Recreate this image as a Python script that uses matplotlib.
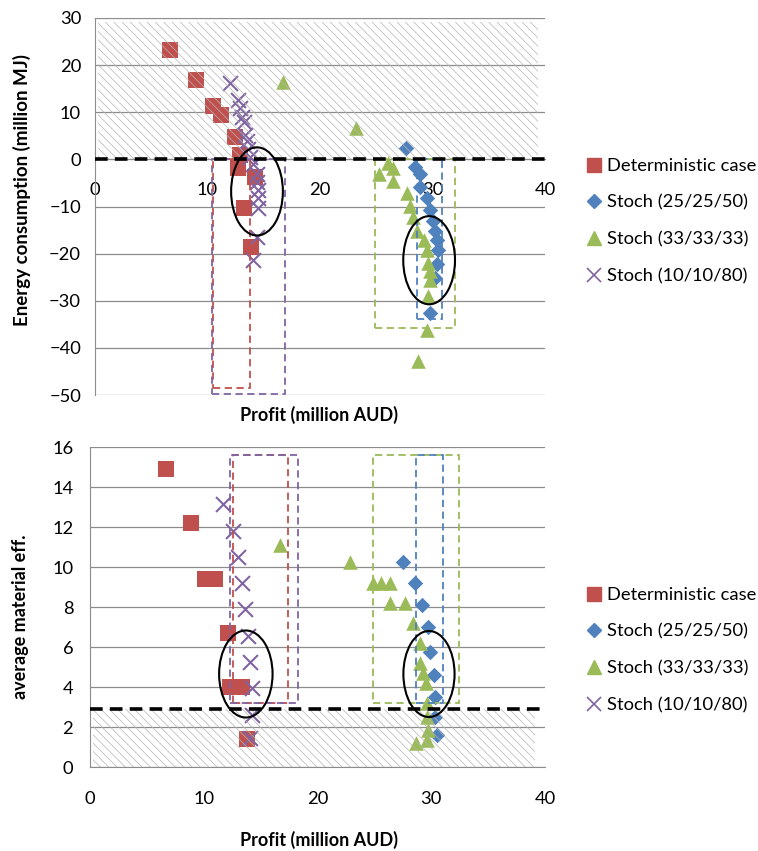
import matplotlib.pyplot as plt
from matplotlib.patches import Rectangle, Ellipse
from matplotlib.lines import Line2D

plt.rcParams['font.family'] = ['Lato', 'DejaVu Sans']
plt.rcParams['hatch.linewidth'] = 0.5

# colours (Excel 2007 defaults)
RED = '#C0504D'
BLUE = '#4F81BD'
GREEN = '#9BBB59'
PURPLE = '#8064A2'
GRID = '#8c8c8c'

labels = ['Deterministic case', 'Stoch (25/25/50)', 'Stoch (33/33/33)', 'Stoch (10/10/80)']

# ---- top chart: profit vs energy consumption
det_e_x = [6.7, 9.0, 10.5, 11.2, 12.4, 12.9, 12.7, 14.2, 13.2, 13.9]
det_e_y = [23.3, 16.8, 11.3, 9.5, 4.7, 1.0, -1.9, -3.8, -10.4, -18.7]

blue_e_x = [27.6, 28.4, 28.9, 28.9, 29.5, 29.8, 30.0, 30.2, 30.4, 30.5, 30.4, 30.2, 29.8]
blue_e_y = [2.5, -1.7, -3.0, -5.9, -8.1, -10.8, -13.0, -15.1, -17.2, -19.3, -22.1, -25.1, -32.5]

green_e_x = [16.7, 23.2, 26.0, 25.2, 26.5, 26.5, 27.7, 28.0, 28.3, 28.6, 29.2, 29.5,
             29.6, 29.8, 29.8, 29.6, 29.5, 28.7]
green_e_y = [16.5, 6.6, -0.8, -3.0, -1.9, -4.5, -7.2, -9.8, -12.3, -15.1, -17.2, -19.3,
             -21.9, -23.6, -25.7, -28.9, -36.3, -42.7]

purple_e_x = [12.0, 12.7, 12.9, 13.1, 13.2, 13.3, 13.5, 13.6, 13.8, 14.0, 14.4, 14.4,
              14.5, 14.5, 14.5, 14.4, 14.0]
purple_e_y = [16.3, 12.5, 11.0, 8.9, 7.9, 5.1, 4.0, 2.3, 0.4, -0.9, -3.0, -4.9,
              -6.6, -8.3, -10.4, -16.5, -21.4]

# ---- bottom chart: profit vs average material efficiency
det_m_x = [6.7, 8.9, 10.1, 11.0, 12.1, 12.3, 13.4, 13.8]
det_m_y = [14.9, 12.2, 9.4, 9.4, 6.7, 4.0, 4.0, 1.4]

blue_m_x = [27.5, 28.6, 29.2, 29.7, 29.9, 30.2, 30.3, 30.3, 30.5]
blue_m_y = [10.25, 9.2, 8.1, 7.0, 5.75, 4.6, 3.5, 2.5, 1.6]

green_m_x = [16.7, 22.9, 24.9, 25.6, 26.4, 26.4, 27.7, 28.4, 29.0, 29.0, 29.3, 29.5,
             29.6, 29.6, 29.7, 28.7, 29.6]
green_m_y = [11.1, 10.25, 9.2, 9.2, 9.2, 8.2, 8.2, 7.2, 6.2, 5.2, 4.7, 4.2,
             3.2, 2.5, 1.85, 1.2, 1.35]

purple_m_x = [11.7, 12.6, 13.0, 13.4, 13.6, 13.9, 14.1, 14.2, 14.2, 14.1]
purple_m_y = [13.15, 11.8, 10.5, 9.2, 7.9, 6.55, 5.25, 3.95, 2.6, 1.45]

# limit lines
energy_limit = 0
material_limit = 2.9

# dashed boxes (x0, x1, y0, y1) and ellipses (cx, cy, w, h) drawn on the charts
boxes_e = [(RED, 10.5, 13.8, -48.6, 0), (PURPLE, 10.4, 16.9, -49.7, 0),
           (GREEN, 24.9, 32.0, -35.7, 0), (BLUE, 28.6, 30.8, -33.8, 0)]
ellipses_e = [(14.4, -6.8, 4.6, 18.7), (29.7, -21.4, 4.6, 18.7)]
boxes_m = [(RED, 12.6, 17.4, 3.2, 15.6), (PURPLE, 12.3, 18.3, 3.2, 15.6),
           (GREEN, 24.9, 32.4, 3.2, 15.6), (BLUE, 28.7, 31.0, 3.2, 15.6)]
ellipses_m = [(13.7, 4.65, 4.7, 4.35), (29.8, 4.65, 4.5, 4.3)]


def draw_points(ax, dx, dy, bx, by, gx, gy, px, py):
    ax.scatter(dx, dy, marker='s', s=120, color=RED, linewidths=0, zorder=3)
    ax.scatter(bx, by, marker='D', s=62, color=BLUE, linewidths=0, zorder=3)
    ax.scatter(gx, gy, marker='^', s=110, color=GREEN, linewidths=0, zorder=3)
    ax.scatter(px, py, marker='x', s=115, color=PURPLE, linewidths=1.5, zorder=3)


def draw_shapes(ax, boxes, ellipses):
    for c, x0, x1, y0, y1 in boxes:
        ax.add_patch(Rectangle((x0, y0), x1 - x0, y1 - y0, fill=False, edgecolor=c,
                               lw=1.3, linestyle=(0, (4, 2.5)), zorder=4))
    for cx, cy, w, h in ellipses:
        ax.add_patch(Ellipse((cx, cy), w, h, fill=False, edgecolor='black', lw=1.5, zorder=5))


def legend(ax, y_top):
    handles = [
        Line2D([], [], ls='none', marker='s', ms=10, color=RED),
        Line2D([], [], ls='none', marker='D', ms=7, color=BLUE),
        Line2D([], [], ls='none', marker='^', ms=10, color=GREEN),
        Line2D([], [], ls='none', marker='x', ms=10, mew=1.2, color=PURPLE),
    ]
    ax.legend(handles, labels, loc='upper left', bbox_to_anchor=(587 / 758, 1 - y_top / 851),
              bbox_transform=fig.transFigure, frameon=False, fontsize=13.2,
              handlelength=0.8, handletextpad=0.3, labelspacing=1.12, borderpad=0,
              borderaxespad=0)


def style(ax):
    ax.grid(axis='y', color=GRID, lw=0.9)
    ax.set_axisbelow(True)
    for s in ['top', 'right']:
        ax.spines[s].set_visible(False)
    ax.spines['left'].set_color(GRID)
    ax.spines['bottom'].set_color(GRID)
    ax.tick_params(axis='both', length=0, labelsize=13.2)


my_dpi = 100
fig = plt.figure(figsize=(758 / my_dpi, 851 / my_dpi), dpi=my_dpi)

ax1 = fig.add_axes([95 / 758, 1 - 395 / 851, 450 / 758, 377 / 851])
ax2 = fig.add_axes([90 / 758, 1 - 767 / 851, 455 / 758, 320 / 851])

# top
style(ax1)
ax1.set_xlim(0, 40)
ax1.set_ylim(-50, 30)
ax1.set_xticks(range(0, 41, 10))
ax1.set_yticks(range(-50, 31, 10))
ax1.spines['bottom'].set_position(('data', 0))
ax1.tick_params(axis='x', pad=16)
ax1.tick_params(axis='y', pad=10)
draw_points(ax1, det_e_x, det_e_y, blue_e_x, blue_e_y, green_e_x, green_e_y, purple_e_x, purple_e_y)
ax1.add_patch(Rectangle((0.3, energy_limit), 39.1, 29.1, facecolor='none', edgecolor='#b4b4b4',
                        lw=0, hatch='\\\\\\\\', zorder=3.5))
ax1.axhline(energy_limit, color='black', lw=2.6, dashes=(3.5, 2), zorder=6)
draw_shapes(ax1, boxes_e, ellipses_e)
ax1.set_ylabel('Energy consumption (million MJ)', fontsize=13.5, fontweight='bold')
ax1.yaxis.set_label_coords(-0.143, 0.545)
ax1.set_xlabel('Profit (million AUD)', fontsize=13, fontweight='bold')
ax1.xaxis.set_label_coords(0.498, -0.03)
legend(ax1, 158)

# bottom
style(ax2)
ax2.set_xlim(0, 40)
ax2.set_ylim(0, 16)
ax2.set_xticks(range(0, 41, 10))
ax2.set_yticks(range(0, 17, 2))
ax2.tick_params(axis='x', pad=17)
ax2.tick_params(axis='y', pad=12)
draw_points(ax2, det_m_x, det_m_y, blue_m_x, blue_m_y, green_m_x, green_m_y, purple_m_x, purple_m_y)
ax2.add_patch(Rectangle((0.3, 0), 38.8, material_limit, facecolor='none', edgecolor='#b4b4b4',
                        lw=0, hatch='\\\\\\\\', zorder=3.5))
ax2.axhline(material_limit, color='black', lw=2.6, dashes=(3.5, 2), zorder=6)
draw_shapes(ax2, boxes_m, ellipses_m)
ax2.set_ylabel('average material eff.', fontsize=13, fontweight='bold')
ax2.yaxis.set_label_coords(-0.135, 0.47)
ax2.set_xlabel('Profit (million AUD)', fontsize=13, fontweight='bold')
ax2.xaxis.set_label_coords(0.503, -0.2)
legend(ax2, 587)

fig.savefig('out.png', dpi=my_dpi)
